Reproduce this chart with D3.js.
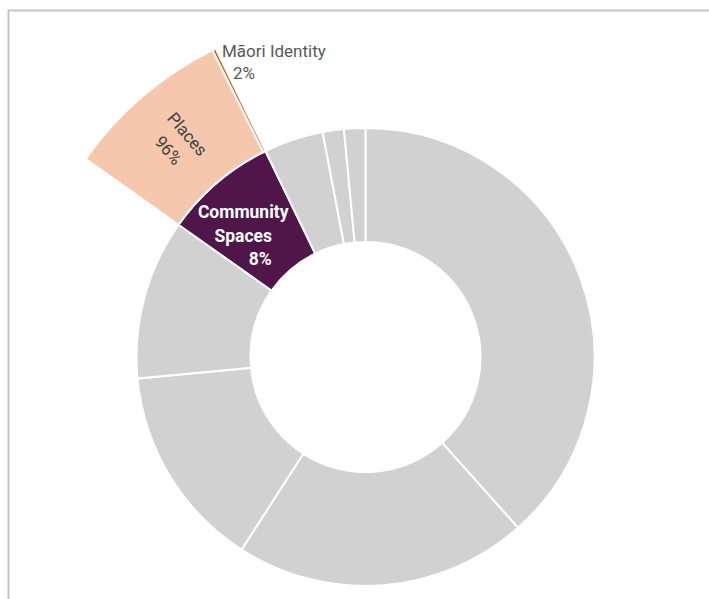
<!DOCTYPE html>
<html>
<head>
<meta charset="utf-8">
<script src="https://cdn.jsdelivr.net/npm/d3@7/dist/d3.min.js"></script>
<style>
  html, body { margin: 0; padding: 0; background: #ffffff; }
  svg { display: block; }
  text { font-family: Roboto, "Liberation Sans", Arial, sans-serif; }
</style>
</head>
<body>
<script>
// Main ring: share of each theme (%); only Community Spaces is highlighted
const categories = ["Theme A", "Theme B", "Theme C", "Theme D", "Community Spaces", "Theme F", "Theme G", "Theme H"];
const shares = [38.4, 20.7, 14.4, 11.3, 8, 4.2, 1.5, 1.5];
const highlighted = "Community Spaces";

// Breakdown of Community Spaces, drawn as an exploded outer segment
const subCategories = ["Places", "Māori Identity"];
const subShares = [96, 2];

const W = 709, H = 599;
const cx = 365.5, cy = 357;
const rInner = 115, rOuter = 229, rSub = 343;

const colors = {
  base: "#d1d1d1",
  highlight: "#501649",
  sub: { "Places": "#f5c7ad", "Māori Identity": "#c55a11" }
};

const svg = d3.select("body").append("svg")
  .attr("width", W).attr("height", H);

// frame lines along the top and left
svg.append("path")
  .attr("d", `M8.5,${H + 5} V10.5 H${W + 5}`)
  .attr("fill", "none")
  .attr("stroke", "#c3c3c3")
  .attr("stroke-width", 2);

const g = svg.append("g").attr("transform", `translate(${cx},${cy})`);

const pie = d3.pie().sort(null).value(d => d.v);
const ringData = categories.map((c, i) => ({ c, v: shares[i] }));
const arcs = pie(ringData);

const arc = d3.arc().innerRadius(rInner).outerRadius(rOuter);

g.selectAll("path.ring")
  .data(arcs)
  .join("path")
  .attr("class", "ring")
  .attr("d", arc)
  .attr("fill", d => d.data.c === highlighted ? colors.highlight : colors.base)
  .attr("stroke", "#ffffff")
  .attr("stroke-width", 2);

// outer breakdown spans the angle of the highlighted slice
const parent = arcs.find(d => d.data.c === highlighted);
const subPie = d3.pie().sort(null).value(d => d.v)
  .startAngle(parent.startAngle).endAngle(parent.endAngle);
const subArcs = subPie(subCategories.map((c, i) => ({ c, v: subShares[i] })));
const subArc = d3.arc().innerRadius(rOuter).outerRadius(rSub);

g.selectAll("path.sub")
  .data(subArcs)
  .join("path")
  .attr("class", "sub")
  .attr("d", subArc)
  .attr("fill", d => colors.sub[d.data.c])
  .attr("stroke", "#ffffff")
  .attr("stroke-width", 2);

const pct = v => `${v}%`;

// label inside the highlighted slice
const [hx, hy] = arc.centroid(parent);
const hl = g.append("text")
  .attr("fill", "#ffffff")
  .attr("font-weight", "bold")
  .attr("font-size", 17.5);
hl.append("tspan").attr("x", hx - 11).attr("y", hy - 7.5).attr("text-anchor", "middle").text("Community");
hl.append("tspan").attr("x", hx - 11).attr("y", hy + 16).attr("text-anchor", "middle").text("Spaces");
hl.append("tspan").attr("x", hx + 6).attr("y", hy + 39).attr("text-anchor", "middle").text(pct(parent.data.v));

// rotated label along the radius of the Places segment
const places = subArcs[0];
const [px, py] = subArc.centroid(places);
const mid = (places.startAngle + places.endAngle) / 2 * 180 / Math.PI;
const pl = g.append("g")
  .attr("transform", `translate(${px - 1},${py + 2}) rotate(${mid - 270})`)
  .append("text")
  .attr("fill", "#404040")
  .attr("font-size", 17)
  .attr("text-anchor", "middle");
pl.append("tspan").attr("x", 0).attr("y", -6).text(places.data.c);
pl.append("tspan").attr("x", 0).attr("y", 19).text(pct(places.data.v));

// callout for the thin Māori Identity segment, next to its outer end
const mi = subArcs[1];
const ma = (mi.startAngle + mi.endAngle) / 2;
const mx = rSub * Math.sin(ma), my = -rSub * Math.cos(ma);
const ml = g.append("text")
  .attr("fill", "#595959")
  .attr("font-size", 17);
ml.append("tspan").attr("x", mx + 8).attr("y", my + 7.5).text(mi.data.c);
ml.append("tspan").attr("x", mx + 19).attr("y", my + 30).text(pct(mi.data.v));
</script>
</body>
</html>
